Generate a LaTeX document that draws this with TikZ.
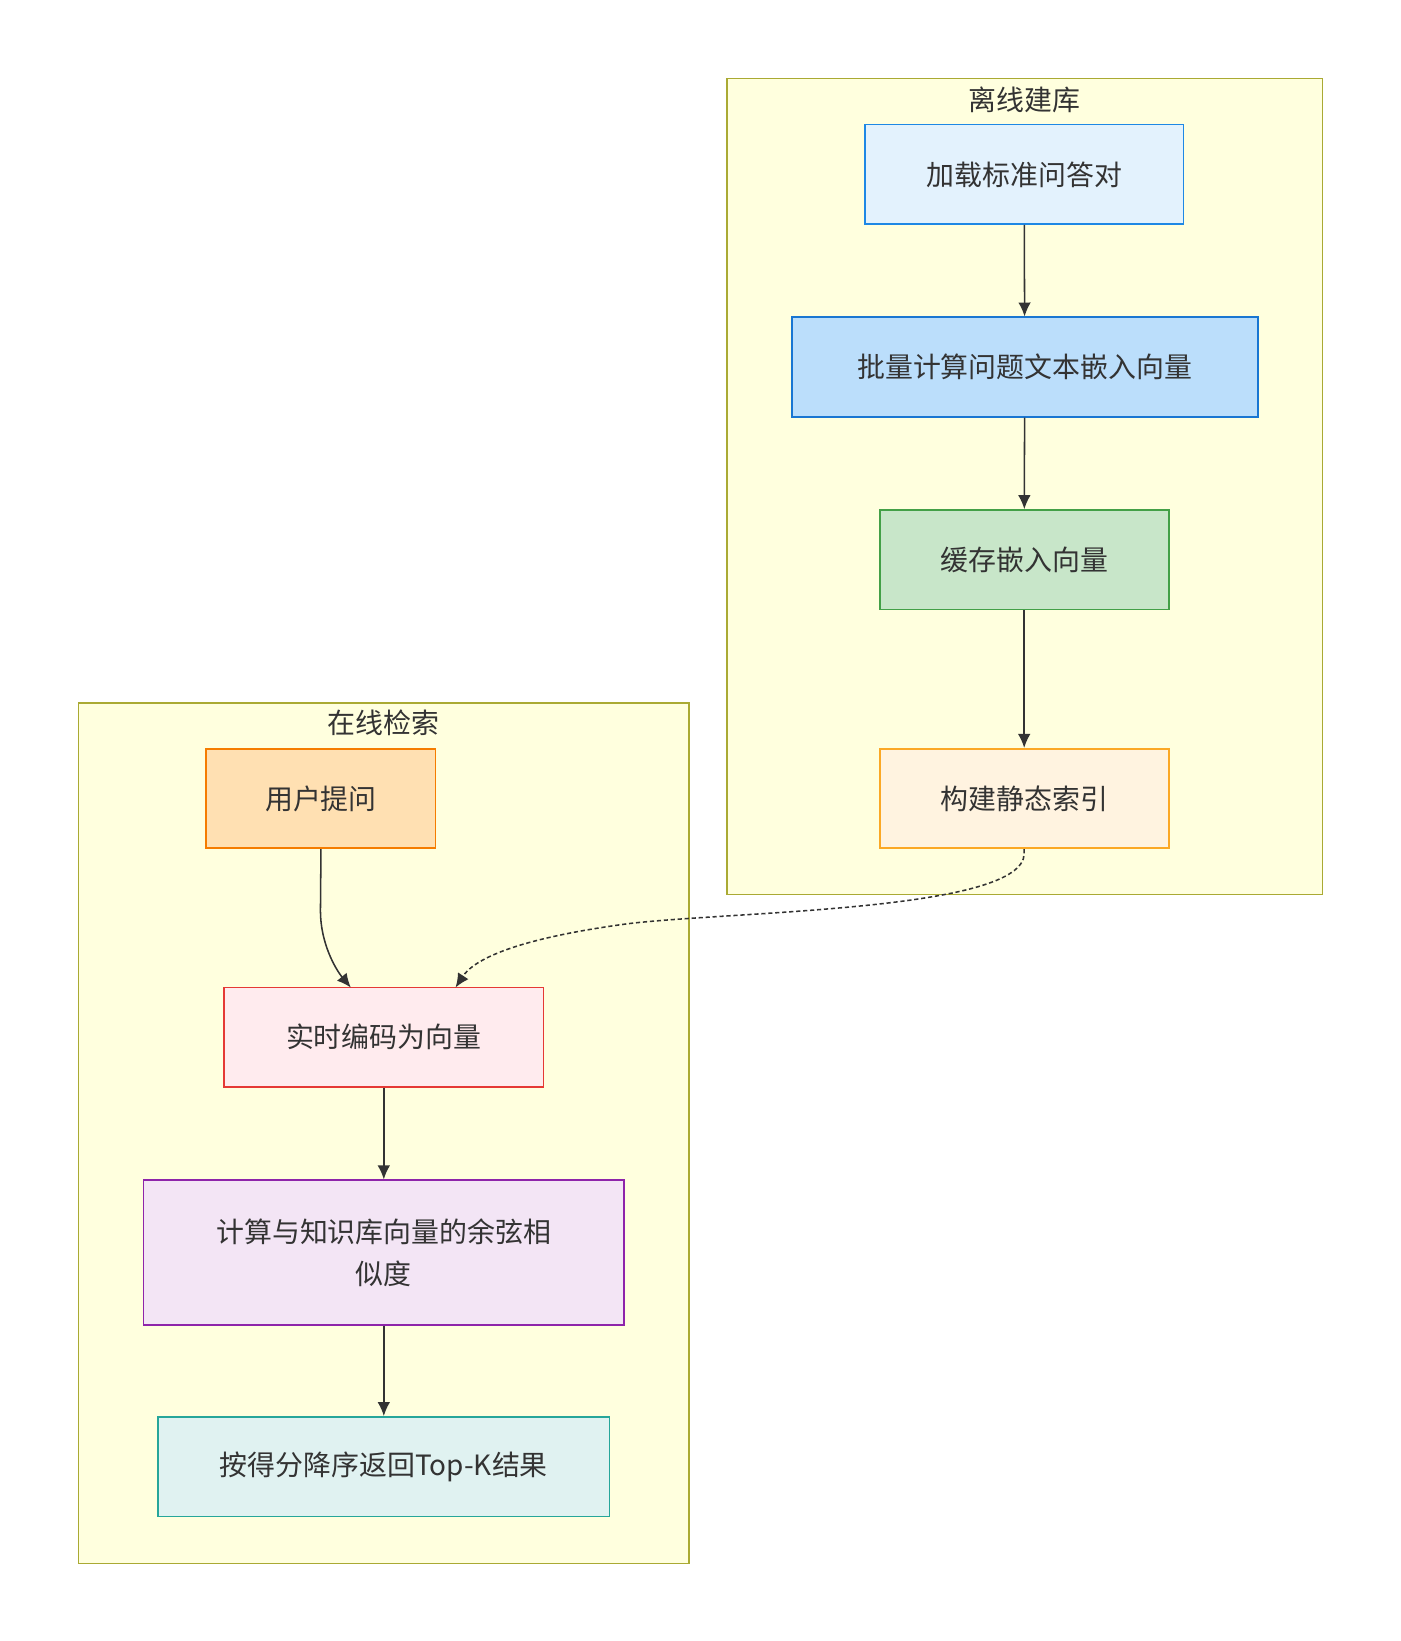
\documentclass[tikz,border=0pt]{standalone}
\usepackage{fontspec}
\setmainfont{Noto Sans CJK SC}
\usetikzlibrary{arrows.meta}
\definecolor{clf}{HTML}{FFFFDE}\definecolor{cls}{HTML}{AAAA33}
\definecolor{txt}{HTML}{333333}
\begin{document}
\begin{tikzpicture}[x=0.75pt,y=-0.75pt,
  box/.style={draw,line width=1.2pt,font=\fontsize{20}{30}\selectfont,text=txt,align=center,inner sep=0pt},
  clu/.style={draw=cls,fill=clf,line width=1.2pt},
  ttl/.style={font=\fontsize{20}{24}\selectfont,text=txt},
  arr/.style={draw=txt,line width=1.1pt,-{Latex[length=10pt,width=9pt]}}]
\useasboundingbox (0,0) rectangle (1337,1567);
\fill[white] (0,0) rectangle (1337,1567);
\draw[clu] (694,75) rectangle (1263,854);
\node[ttl] (t1) at (978,95) {离线建库};
\draw[clu] (75,671) rectangle (658,1493);
\node[ttl] (t2) at (366,690) {在线检索};
\node[box,fill={rgb,255:red,227;green,242;blue,253},draw={rgb,255:red,30;green,136;blue,229},minimum width=228pt,minimum height=71.25pt] (A) at (978,166.5) {加载标准问答对};
\node[box,fill={rgb,255:red,187;green,222;blue,251},draw={rgb,255:red,25;green,118;blue,210},minimum width=333.75pt,minimum height=71.25pt] (B) at (978.5,350.5) {批量计算问题文本嵌入向量};
\node[box,fill={rgb,255:red,200;green,230;blue,201},draw={rgb,255:red,67;green,160;blue,71},minimum width=207pt,minimum height=71.25pt] (C) at (978,534.5) {缓存嵌入向量};
\node[box,fill={rgb,255:red,255;green,243;blue,224},draw={rgb,255:red,251;green,168;blue,37},minimum width=207pt,minimum height=71.25pt] (D) at (978,762.5) {构建静态索引};
\node[box,fill={rgb,255:red,255;green,224;blue,178},draw={rgb,255:red,245;green,124;blue,0},minimum width=164.25pt,minimum height=71.25pt] (E) at (306.5,762.5) {用户提问};
\node[box,fill={rgb,255:red,255;green,235;blue,238},draw={rgb,255:red,229;green,57;blue,53},minimum width=228.75pt,minimum height=71.25pt] (F) at (366.5,990.5) {实时编码为向量};
\node[box,fill={rgb,255:red,243;green,229;blue,245},draw={rgb,255:red,142;green,36;blue,170},minimum width=344.25pt,minimum height=103.5pt] (G) at (366.5,1196) {计算与知识库向量的余弦相\\似度};
\node[box,fill={rgb,255:red,224;green,242;blue,241},draw={rgb,255:red,38;green,166;blue,154},minimum width=323.25pt,minimum height=71.25pt] (H) at (366.5,1400.5) {按得分降序返回Top-K结果};
\draw[arr] (A) -- (B);
\draw[arr] (B) -- (C);
\draw[arr] (C) -- (D);
\draw[arr] (F) -- (G);
\draw[arr] (G) -- (H);
\coordinate (e1) at (335,943);
\coordinate (d1) at (435,943);
\draw[arr] (E.south) -- (306,870) .. controls (306,900) and (320,925) .. (e1);
\draw[arr,dash pattern=on 3pt off 2pt] (D.south) -- (978,815) .. controls (978,870) and (700,870) .. (600,882) .. controls (480,898) and (450,920) .. (d1);
\end{tikzpicture}
\end{document}
